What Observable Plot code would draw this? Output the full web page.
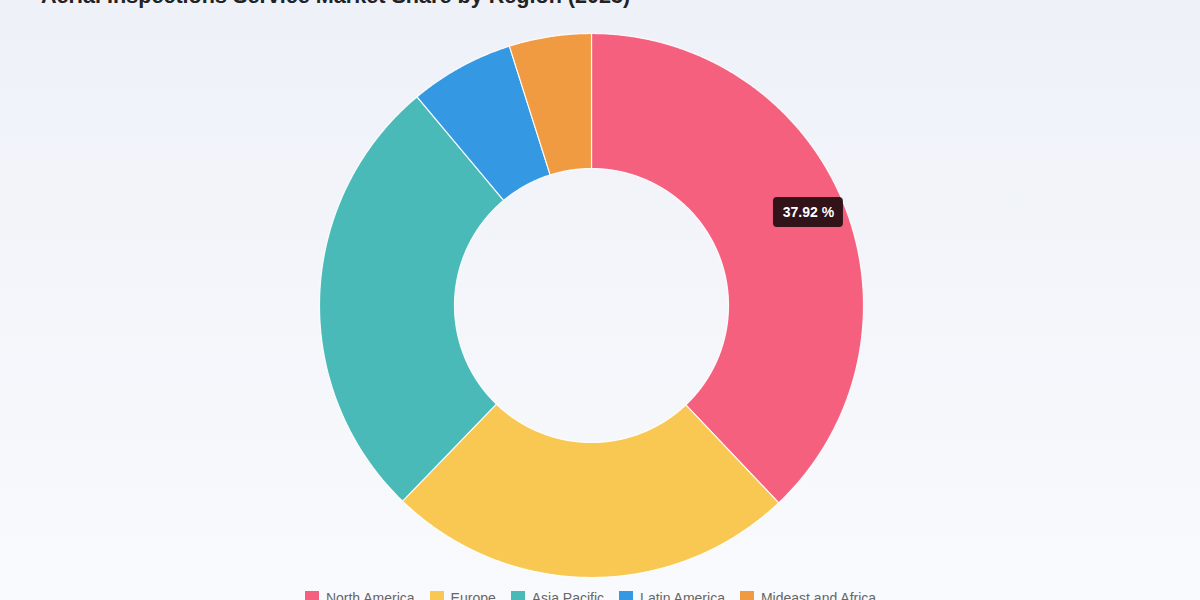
<!DOCTYPE html>
<html>
<head>
<meta charset="utf-8">
<script src="https://cdn.jsdelivr.net/npm/d3@7"></script>
<script src="https://cdn.jsdelivr.net/npm/@observablehq/plot@0.6"></script>
<style>
  html, body { margin: 0; padding: 0; width: 1200px; height: 600px; overflow: hidden; }
  body { background: linear-gradient(to bottom, #eef1f8 0%, #f9fafd 100%); font-family: "Liberation Sans", Arial, sans-serif; position: relative; }
  #title { position: absolute; left: 41px; top: -16.5px; font-size: 21.6px; line-height: 24px; font-weight: bold; color: #222; white-space: nowrap; }
  #chart { position: absolute; left: 0; top: 20px; }
  #legend { position: absolute; left: 0; top: 581px; width: 1196px; display: flex; justify-content: center; }
  .lg-swatch { margin-right: 15px !important; font-size: 14px; color: #666; }
  .lg-swatch > svg { margin-right: 7px !important; }
</style>
</head>
<body>
<div id="title">Aerial Inspections Service Market Share by Region (2023)</div>
<div id="chart"></div>
<div id="legend"></div>
<script>
const regions = ["North America", "Europe", "Asia Pacific", "Latin America", "Mideast and Africa"];
const shares = [37.92, 24.3, 26.7, 6.2, 4.88];
const colors = ["#f5607f", "#f8c853", "#4abab9", "#3598e3", "#f09a41"];
const highlighted = "North America";

const W = 1200, H = 565;
const cx = 591, cy = 285;
const outerR = 272, innerR = 137;

const total = d3.sum(shares);
const pie = d3.pie().sort(null).value(d => d.value)(regions.map((r, i) => ({region: r, value: shares[i]})));

const pts = [];
for (const s of pie) {
  const n = Math.max(4, Math.ceil((s.endAngle - s.startAngle) / 0.005));
  for (let k = 0; k <= n; k++) {
    const a = s.startAngle + (s.endAngle - s.startAngle) * k / n;
    pts.push({region: s.data.region, x: outerR * Math.sin(a), y: outerR * Math.cos(a)});
  }
  for (let k = n; k >= 0; k--) {
    const a = s.startAngle + (s.endAngle - s.startAngle) * k / n;
    pts.push({region: s.data.region, x: innerR * Math.sin(a), y: innerR * Math.cos(a)});
  }
}

const hs = pie.find(s => s.data.region === highlighted);
const ta = (hs.startAngle + hs.endAngle) / 2 - 0.025;
const tr = 236;
const tip = [{x: tr * Math.sin(ta), y: tr * Math.cos(ta), label: (hs.data.value / total * 100).toFixed(2) + " %"}];

const colorScale = {domain: regions, range: colors};

const chart = Plot.plot({
  width: W, height: H,
  margin: 0,
  x: {domain: [-cx, W - cx], axis: null},
  y: {domain: [-(H - cy), cy], axis: null},
  color: colorScale,
  style: {background: "transparent", overflow: "visible"},
  marks: [
    Plot.line(pts, {x: "x", y: "y", z: "region", fill: "region", stroke: "white", strokeWidth: 1.2, strokeOpacity: 0.9, curve: "linear-closed"}),
    Plot.rect(tip, {x1: d => d.x - 35, x2: d => d.x + 35, y1: d => d.y - 15, y2: d => d.y + 15, fill: "rgba(0,0,0,0.8)", rx: 4}),
    Plot.text(tip, {x: "x", y: "y", text: "label", fill: "white", fontSize: 14, fontWeight: "bold", fontFamily: "Liberation Sans, Arial, sans-serif"})
  ]
});
document.getElementById("chart").appendChild(chart);

const legend = Plot.legend({color: colorScale, legend: "swatches", swatchSize: 14, className: "lg", style: {fontSize: "14px", fontFamily: "Liberation Sans, Arial, sans-serif", color: "#666", background: "transparent"}});
document.getElementById("legend").appendChild(legend);
</script>
</body>
</html>
